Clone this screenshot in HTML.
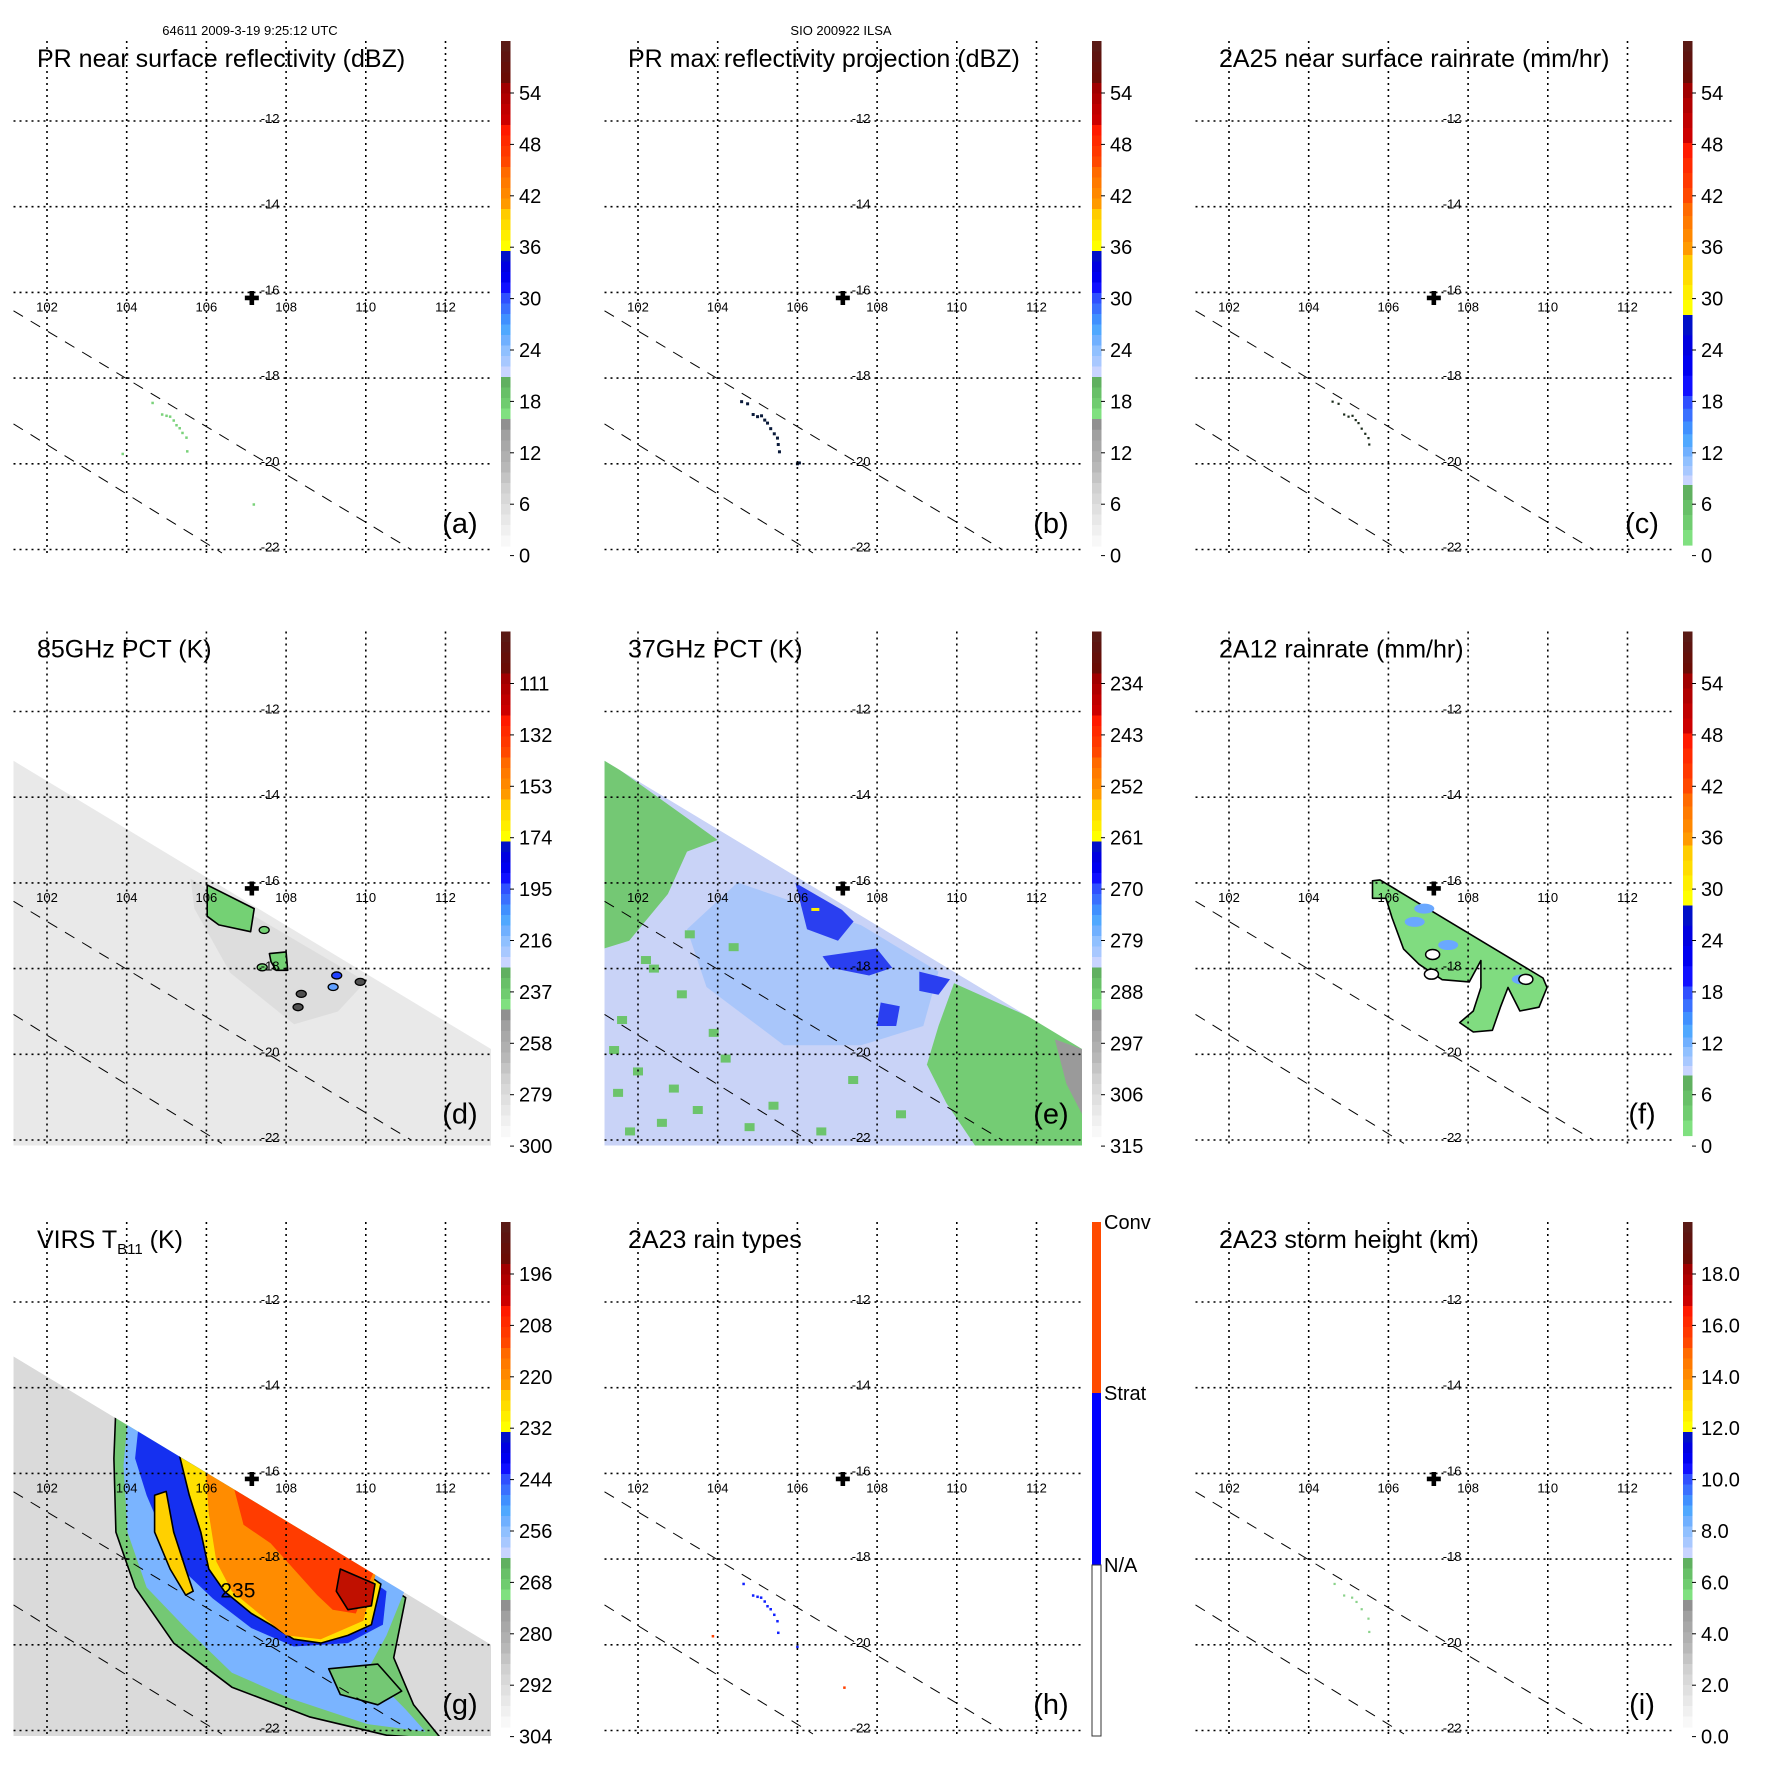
<!DOCTYPE html>
<html><head><meta charset="utf-8"><style>
html,body{margin:0;padding:0;background:#fff}
svg{display:block}
text{font-family:"Liberation Sans",Arial,sans-serif;fill:#000}
</style></head>
<body>
<svg id="fig" width="1771" height="1771" viewBox="0 0 1771 1771" xmlns="http://www.w3.org/2000/svg">
<defs></defs>
<text x="250" y="35" font-size="13" text-anchor="middle">64611 2009-3-19 9:25:12 UTC</text>
<text x="841" y="35" font-size="13" text-anchor="middle">SIO 200922 ILSA</text>
</svg>
<script>
// ---------- data ----------
const lonTicks = [102,104,106,108,110,112];
const latTicks = [-12,-14,-16,-18,-20,-22];
const stormCenter = [107.14,-16.13];
const prSwathLine1 = [[101.16,-16.43],[111.12,-21.99]];
const prSwathLine2 = [[101.16,-19.07],[106.39,-22.08]];
const tmiSwath = [[101.16,-13.15],[113.15,-19.88],[113.15,-22.3],[101.16,-22.3]];
const virsSwath = [[101.16,-13.27],[113.15,-20.0],[113.15,-22.3],[101.16,-22.3]];

const labelsA = ['54','48','42','36','30','24','18','12','6','0'];
const labelsC = ['54','48','42','36','30','24','18','12','6','0'];
const labelsD = ['111','132','153','174','195','216','237','258','279','300'];
const labelsE = ['234','243','252','261','270','279','288','297','306','315'];
const labelsG = ['196','208','220','232','244','256','268','280','292','304'];
const labelsI = ['18.0','16.0','14.0','12.0','10.0','8.0','6.0','4.0','2.0','0.0'];

const prEchoLon = [104.65,104.89,105.0,105.09,105.18,105.25,105.33,105.4,105.5,105.52,103.9,107.19];
const prEchoLat = [-18.58,-18.85,-18.88,-18.9,-18.99,-19.1,-19.17,-19.28,-19.39,-19.71,-19.77,-20.95];
const prMaxLon = [104.6,104.75,104.89,105.0,105.1,105.18,105.25,105.33,105.42,105.5,105.52,105.55,106.0,106.05];
const prMaxLat = [-18.55,-18.6,-18.85,-18.9,-18.88,-18.98,-19.05,-19.18,-19.3,-19.4,-19.55,-19.72,-20.0,-19.98];
const stratLon = [104.65,104.89,105.0,105.09,105.18,105.25,105.33,105.42,105.5,105.52,106.0];
const stratLat = [-18.58,-18.85,-18.88,-18.9,-18.99,-19.1,-19.17,-19.3,-19.45,-19.72,-20.05];
const convLon = [103.88,107.18];
const convLat = [-19.8,-21.0];

const d_green1 = [[106.02,-16.05],[107.2,-16.6],[107.11,-17.14],[106.31,-16.98],[106.02,-16.78]];
const d_green2 = [[107.58,-17.65],[108.0,-17.61],[108.04,-18.04],[107.75,-18.04],[107.62,-17.84]];
const d_blobLon = [107.45,107.4,109.27,109.18,108.38,108.3,109.86];
const d_blobLat = [-17.1,-17.97,-18.16,-18.43,-18.59,-18.9,-18.31];
const d_blobVal = [270,270,215,230,290,290,300];
const d_smudge = [[105.6,-15.9],[110.0,-18.3],[109.3,-19.0],[108.2,-19.3],[106.6,-18.1],[105.7,-16.6]];

const e_light = [[104.5,-15.99],[107.6,-16.99],[109.54,-18.07],[109.16,-19.34],[107.6,-19.79],[105.66,-19.79],[103.72,-18.43],[103.23,-17.08]];
const e_greenUL = [[101.15,-13.1],[104.0,-15.0],[103.23,-15.27],[102.75,-16.26],[101.78,-17.35],[101.15,-17.53]];
const e_greenLR = [[109.93,-18.34],[109.54,-19.34],[109.25,-20.24],[109.74,-21.14],[110.51,-22.2],[113.2,-22.2],[113.2,-19.7]];
const e_grey = [[112.46,-19.65],[113.2,-19.9],[113.2,-21.5],[112.75,-20.69]];
const e_dark1 = [[105.95,-16.0],[107.12,-16.63],[107.41,-16.9],[107.02,-17.35],[106.24,-17.08]];
const e_dark2 = [[106.63,-17.71],[107.99,-17.53],[108.38,-17.98],[107.8,-18.16],[106.83,-17.98]];
const e_dark3 = [[109.06,-18.07],[109.83,-18.25],[109.54,-18.61],[109.06,-18.52]];
const e_dark4 = [[108.09,-18.79],[108.57,-18.88],[108.48,-19.34],[107.99,-19.34]];
const e_spotLon = [102.4,103.1,101.6,102.0,104.2,103.5,101.8,102.6,104.8,105.4,103.9,101.5,102.2,104.4,106.6,107.4,108.6,102.9,101.4,103.3];
const e_spotLat = [-18.0,-18.6,-19.2,-20.4,-20.1,-21.3,-21.8,-21.6,-21.7,-21.2,-19.5,-20.9,-17.8,-17.5,-21.8,-20.6,-21.4,-20.8,-19.9,-17.2];

const f_rain = [[105.6,-15.95],[105.79,-15.93],[109.88,-18.22],[109.98,-18.44],[109.78,-18.9],[109.3,-18.99],[109.0,-18.44],[108.81,-18.9],[108.61,-19.44],[108.13,-19.48],[107.79,-19.26],[108.13,-18.99],[108.32,-18.44],[108.32,-17.81],[108.03,-18.31],[107.35,-18.26],[106.77,-17.9],[106.38,-17.54],[106.09,-16.81],[105.94,-16.36],[105.6,-16.36]];
const f_holeLon = [107.11,107.08,109.45];
const f_holeLat = [-17.67,-18.13,-18.25];
const f_blueLon = [106.66,107.5,109.35,106.9];
const f_blueLat = [-16.91,-17.45,-18.25,-16.6];

const g_green = [[103.73,-14.44],[103.68,-15.65],[103.73,-17.37],[104.21,-18.66],[105.18,-19.96],[106.64,-20.99],[108.58,-21.68],[110.52,-22.11],[111.9,-22.2],[111.2,-21.4],[110.7,-20.3],[111.0,-18.9]];
const g_blueLt = [[104.02,-14.78],[103.92,-15.82],[104.02,-17.37],[104.5,-18.66],[105.48,-19.61],[106.64,-20.65],[108.1,-21.25],[110.04,-21.85],[111.5,-22.03],[111.0,-21.51],[110.04,-20.6],[110.52,-19.78],[111.01,-18.66]];
const g_greenIn = [[109.07,-20.56],[110.3,-20.45],[110.9,-21.08],[110.3,-21.4],[109.36,-21.16]];
const g_blueDk = [[104.31,-14.78],[104.21,-15.65],[104.5,-16.51],[104.89,-17.37],[105.38,-18.23],[106.16,-18.92],[107.13,-19.61],[108.19,-20.04],[109.55,-19.96],[110.43,-19.53],[110.52,-18.75]];
const g_yellow = [[105.23,-15.22],[105.57,-16.51],[105.86,-17.37],[106.06,-18.23],[106.45,-18.75],[107.13,-19.27],[107.61,-19.53],[108.19,-19.87],[108.87,-19.96],[109.55,-19.78],[110.14,-19.53],[110.38,-18.58]];
const g_yellowL = [[104.7,-16.51],[104.99,-16.42],[105.18,-17.37],[105.48,-18.23],[105.67,-18.75],[105.48,-18.84],[105.09,-18.23],[104.7,-17.37]];
const g_orange = [[105.96,-15.65],[106.06,-16.94],[106.25,-18.06],[106.64,-18.75],[107.42,-19.35],[108.0,-19.78],[108.87,-19.87],[109.94,-19.44],[110.28,-18.23]];
const g_red = [[106.64,-16.16],[106.93,-17.2],[107.61,-17.63],[108.19,-18.23],[108.78,-18.84],[109.17,-19.18],[109.75,-19.27],[110.23,-18.23]];
const g_redDk = [[109.36,-18.23],[110.23,-18.58],[110.14,-19.09],[109.55,-19.18],[109.26,-18.75]];
const g_label = [106.79,-18.73,'235'];

const iLon = [104.65,104.89,105.09,105.2,105.33,105.5,105.52];
const iLat = [-18.58,-18.85,-18.9,-19.0,-19.17,-19.39,-19.7];

// ---------- rendering ----------
const NS = 'http://www.w3.org/2000/svg';
const svg = document.getElementById('fig');
function mk(tag, attrs, parent){ const e=document.createElementNS(NS,tag); for(const k in attrs) e.setAttribute(k,attrs[k]); (parent||svg).appendChild(e); return e; }

const stdBands = [
 ['#5a1a15','#5e1410','#65100a','#6a0c05'],['#a00000','#b00000','#c00000','#cc0000'],
 ['#ff1a00','#ff2a00','#ff3800','#ff4800'],['#ff6a00','#ff7a00','#ff8800','#ff9a00'],
 ['#ffcc00','#ffdd00','#ffee00','#ffff00'],['#0010c8','#0000e0','#0000f0','#1010ff'],
 ['#3050ff','#3a70ff','#4090ff','#50a8ff'],['#70b0ff','#90c0ff','#a8c8ff','#c8d4ff'],
 ['#60b060','#68c068','#70cc70','#80e080'],['#909090','#a0a0a0','#a8a8a8','#b0b0b0'],
 ['#b8b8b8','#c4c4c4','#d0d0d0','#d8d8d8'],['#e0e0e0','#e8e8e8','#f0f0f0','#f8f8f8']];
const stdEdges = [41,83,125,167,209,251,293,335,377,419,462,504,546];
const rainBands = stdBands.slice(0,9);
const rainEdges = [41,83,143,203,255,315,396,447,485,545];

function panel(col,row,name,title,letter,labels,palette){
  const ox=[0,591,1182][col], oy=[0,590.5,1181][row];
  const X = lon => ox+47+(lon-102)*39.85;
  const Y = lat => oy+121+(-12-lat)*42.85;
  const g = mk('g',{});
  
  
  const cid='clip-'+name;
  const cp = mk('clipPath',{id:cid}, svg.querySelector('defs'));
  mk('rect',{x:ox+13.5,y:oy+41,width:477.5,height:514},cp);
  const field = mk('g',{'clip-path':'url(#'+cid+')'},g);
  
  
  const P = {ox,oy,X,Y,g,field};
  P.poly = (pts,fill,stroke,parent,nm) => {
    const e = mk('polygon',{points:pts.map(p=>X(p[0]).toFixed(1)+','+Y(p[1]).toFixed(1)).join(' '),fill:fill,stroke:stroke||'none','stroke-width':1.6,'stroke-linejoin':'round'},parent||field);
    
    
    return e;
  };
  P.dots = (lons,lats,fill,s,nm) => {
    lons.forEach((lo,i)=>{
      const e = mk('rect',{x:X(lo)-s/2,y:Y(lats[i])-s/2,width:s,height:s,fill:fill},field);
      
      
    });
  };
  P.finish = () => {
    latTicks.forEach(lat=>{
      const l = mk('line',{x1:ox+13.5,x2:ox+491,y1:Y(lat),y2:Y(lat),stroke:'#000','stroke-width':1.6,'stroke-dasharray':'2 4'},g);
      
      
      const t = mk('text',{x:X(107.6),y:Y(lat)+2,'font-size':13,'text-anchor':'middle'},g);
      t.textContent = String(lat);
      
      
    });
    lonTicks.forEach(lon=>{
      const l = mk('line',{x1:X(lon),x2:X(lon),y1:oy+41,y2:oy+555,stroke:'#000','stroke-width':1.6,'stroke-dasharray':'2 4'},g);
      
      
      const t = mk('text',{x:X(lon),y:Y(-16.4)+2,'font-size':13,'text-anchor':'middle'},g);
      t.textContent = String(lon);
      
      
    });
    [prSwathLine1,prSwathLine2].forEach(ln=>{
      const l = mk('line',{x1:X(ln[0][0]),y1:Y(ln[0][1]),x2:X(ln[1][0]),y2:Y(ln[1][1]),stroke:'#000','stroke-width':1,'stroke-dasharray':'11 9'},g);
      
      
    });
    const cx=X(stormCenter[0]), cy=Y(stormCenter[1]);
    const c = mk('path',{d:`M${cx-7} ${cy-2.3}h14v4.6h-14z M${cx-2.3} ${cy-7}h4.6v14h-4.6z`,fill:'#000'},g);
    
    
    const t = mk('text',{x:ox+37,y:oy+67,'font-size':25},g);
    t.innerHTML = title;
    
    
    const lt = mk('text',{x:ox+460,y:oy+533,'font-size':29,'text-anchor':'middle'},g);
    lt.textContent = '('+letter+')';
    
    
    if(palette){
      const cb = mk('g',{},g);
      
      
      const bands = palette==='rain'?rainBands:stdBands, edges = palette==='rain'?rainEdges:stdEdges;
      bands.forEach((sh,i)=>{
        const h=(edges[i+1]-edges[i])/sh.length;
        sh.forEach((col,j)=>{ mk('rect',{x:ox+501,y:oy+edges[i]+j*h,width:9.5,height:h+0.6,fill:col},cb); });
      });
      labels.forEach((lab,i)=>{
        const yy = oy+93+i*51.4;
        mk('line',{x1:ox+510,x2:ox+514,y1:yy,y2:yy,stroke:'#000','stroke-width':1},cb);
        const tt = mk('text',{x:ox+519,y:yy+7,'font-size':20},cb);
        tt.textContent = lab;
        
        
      });
    }
  };
  return P;
}

let A = panel(0,0,'pr-near-surface','PR near surface reflectivity (dBZ)','a',labelsA,'std');
A.dots(prEchoLon,prEchoLat,'#7ad27a',2.5,'echo-point'); A.finish();
let B = panel(1,0,'pr-max-projection','PR max reflectivity projection (dBZ)','b',labelsA,'std');
B.dots(prMaxLon,prMaxLat,'#0a1a3a',3,'echo-point'); B.finish();
let C = panel(2,0,'2a25-rainrate','2A25 near surface rainrate (mm/hr)','c',labelsC,'rain');
C.dots(prMaxLon.slice(0,11),prMaxLat.slice(0,11),'#1a2a1a',2.2,'rain-point'); C.finish();

let D = panel(0,1,'85ghz-pct','85GHz PCT (K)','d',labelsD,'std');
{
  D.poly(tmiSwath,'#e9e9e9',null,null,'tmi-swath');
  D.poly(d_smudge,'#d4d4d4',null,null,'cold-smudge').setAttribute('opacity','0.55');
  D.poly(d_green1,'#74d174','#000',null,'pct-region');
  D.poly(d_green2,'#74d174','#000',null,'pct-region');
  d_blobLon.forEach((lo,i)=>{
    const v=d_blobVal[i];
    const col = v<220?'#2040ff':(v<250?'#60a0ff':(v<280?'#74d174':'#505050'));
    const e = mk('ellipse',{cx:D.X(lo),cy:D.Y(d_blobLat[i]),rx:5,ry:3.5,fill:col,stroke:'#000','stroke-width':1.3},D.field);
    
    
  });
}
D.finish();

let E = panel(1,1,'37ghz-pct','37GHz PCT (K)','e',labelsE,'std');
{
  const inner = mk('g',{},E.field);
  const cl = mk('clipPath',{id:'swclip-e'},svg.querySelector('defs'));
  mk('polygon',{points:tmiSwath.map(p=>E.X(p[0])+','+E.Y(p[1])).join(' ')},cl);
  inner.setAttribute('clip-path','url(#swclip-e)');
  E.poly(tmiSwath,'#c9d3f7',null,inner,'tmi-swath');
  E.poly(e_light,'#a9c6fa',null,inner,'light-blue-region');
  E.poly(e_greenUL,'#74c874',null,inner,'warm-region');
  E.poly(e_greenLR,'#74cc74',null,inner,'warm-region');
  E.poly(e_grey,'#9a9a9a',null,inner,'grey-region');
  [e_dark1,e_dark2,e_dark3,e_dark4].forEach(p=>E.poly(p,'#2a3ff0',null,inner,'cold-region'));
  e_spotLon.forEach((lo,i)=>{
    const e = mk('rect',{x:E.X(lo)-5,y:E.Y(e_spotLat[i])-4,width:10,height:8,fill:'#6cc46c'},inner);
    
    
  });
  const y = mk('rect',{x:E.X(106.45)-4,y:E.Y(-16.62)-1.5,width:8,height:3,fill:'#ffee00'},inner);
  
  
}
E.finish();

let F = panel(2,1,'2a12-rainrate','2A12 rainrate (mm/hr)','f',labelsC,'rain');
F.poly(f_rain,'#80dc80','#000',null,'rain-area');
f_blueLon.forEach((lo,i)=>{
  const e = mk('ellipse',{cx:F.X(lo),cy:F.Y(f_blueLat[i]),rx:10,ry:5,fill:'#6aa8ff'},F.field);
  
  
});
f_holeLon.forEach((lo,i)=>{
  const e = mk('ellipse',{cx:F.X(lo),cy:F.Y(f_holeLat[i]),rx:7,ry:5,fill:'#fff',stroke:'#000','stroke-width':1.5},F.field);
  
  
});
F.finish();

let G = panel(0,2,'virs-tb11','VIRS T<tspan font-size="15" dy="6">B11</tspan><tspan dy="-6"> (K)</tspan>','g',labelsG,'std');
{
  const inner = mk('g',{},G.field);
  const cl = mk('clipPath',{id:'swclip-g'},svg.querySelector('defs'));
  mk('polygon',{points:virsSwath.map(p=>G.X(p[0])+','+G.Y(p[1])).join(' ')},cl);
  inner.setAttribute('clip-path','url(#swclip-g)');
  G.poly(virsSwath,'#dadada',null,inner,'virs-swath');
  G.poly(g_green,'#74c874','#000',inner,'tb-268');
  G.poly(g_blueLt,'#7ab4ff',null,inner,'tb-256');
  G.poly(g_greenIn,'#74c874','#000',inner,'tb-268');
  G.poly(g_blueDk,'#1530f0',null,inner,'tb-244');
  G.poly(g_yellow,'#ffe000','#000',inner,'tb-232');
  G.poly(g_yellowL,'#ffd000','#000',inner,'tb-232');
  G.poly(g_orange,'#ff8c00',null,inner,'tb-220');
  G.poly(g_red,'#ff3c00',null,inner,'tb-208');
  G.poly(g_redDk,'#c01000','#000',inner,'tb-196');
  const t = mk('text',{x:G.X(g_label[0]),y:G.Y(g_label[1])+7,'font-size':21,'text-anchor':'middle'},inner);
  t.textContent = g_label[2];
  
  
}
G.finish();

let H = panel(1,2,'2a23-rain-types','2A23 rain types','h',null,null);
H.dots(stratLon,stratLat,'#1020ff',2.5,'stratiform-point');
H.dots(convLon,convLat,'#ff4000',2.5,'convective-point');
H.finish();
{
  const ox=H.ox, oy=H.oy;
  const cb = mk('g',{},H.g);
  
  
  mk('rect',{x:ox+501,y:oy+41,width:9,height:171,fill:'#ff4a00'},cb);
  mk('rect',{x:ox+501,y:oy+212,width:9,height:172,fill:'#0000ff'},cb);
  mk('rect',{x:ox+501,y:oy+384,width:9,height:171,fill:'#fff',stroke:'#333','stroke-width':1},cb);
  [['Conv',41],['Strat',212],['N/A',384]].forEach(l=>{
    const t = mk('text',{x:ox+513,y:oy+l[1]+7,'font-size':20},cb);
    t.textContent = l[0];
    
    
  });
}

let I = panel(2,2,'2a23-storm-height','2A23 storm height (km)','i',labelsI,'std');
I.dots(iLon,iLat,'#8ad28a',2.2,'height-point'); I.finish();
</script>
</body></html>
